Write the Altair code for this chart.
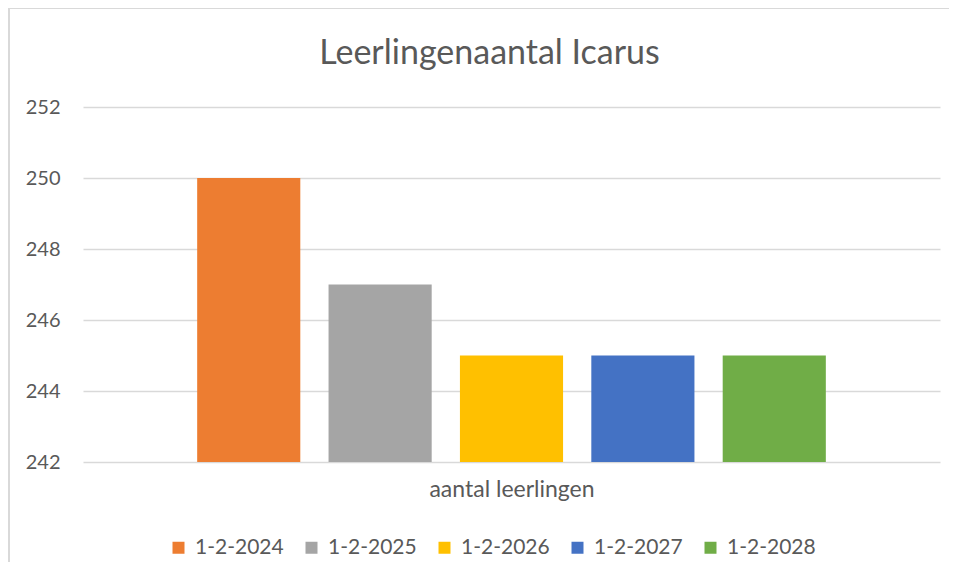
import altair as alt
import pandas as pd

categories = ["1-2-2024", "1-2-2025", "1-2-2026", "1-2-2027", "1-2-2028"]
values = [250, 247, 245, 245, 245]
colors = ["#ED7D31", "#A5A5A5", "#FFC000", "#4472C4", "#70AD47"]
y_ticks = [242, 244, 246, 248, 250, 252]
group_label = "aantal leerlingen"
title_text = "Leerlingenaantal Icarus"

df = pd.DataFrame({"datum": categories, "aantal": values})

W, H = 857, 355
FONT = "Lato"
GREY = "#595959"
BORDER = "#D9D9D9"

bars = alt.Chart(df).mark_bar().encode(
    x=alt.X("datum:N", sort=categories,
            scale=alt.Scale(paddingInner=0.215, paddingOuter=0.869),
            axis=alt.Axis(labels=False, ticks=False, domain=False, title=group_label,
                          titleFont=FONT, titleFontSize=23, titleFontWeight="normal",
                          titleColor=GREY, titlePadding=16)),
    y=alt.Y("aantal:Q", scale=alt.Scale(domain=[242, 252], zero=False, nice=False),
            axis=alt.Axis(values=y_ticks, title=None, ticks=False, domain=False,
                          labelFont=FONT, labelFontSize=20, labelColor=GREY,
                          labelPadding=23, gridColor=BORDER, gridWidth=1.5)),
    y2=alt.Y2(datum=242),
    color=alt.Color("datum:N", sort=categories,
                    scale=alt.Scale(domain=categories, range=colors),
                    legend=alt.Legend(title=None, orient="none", direction="horizontal",
                                      legendX=85, legendY=430, symbolType="square",
                                      symbolSize=144, symbolStrokeWidth=0,
                                      labelFont=FONT, labelFontSize=21, labelColor=GREY,
                                      labelOffset=6, columnPadding=17)),
)

frame_df = pd.DataFrame({"k": [0]})
top_border = alt.Chart(frame_df).mark_rule(color=BORDER, strokeWidth=2).encode(
    x=alt.value(-74), x2=alt.value(W + 9), y=alt.value(-99)
)
left_border = alt.Chart(frame_df).mark_rule(color=BORDER, strokeWidth=2).encode(
    x=alt.value(-74), y=alt.value(-99), y2=alt.value(H + 130)
)

chart = alt.layer(top_border, left_border, bars).properties(
    width=W, height=H,
    padding={"left": 75, "top": 99, "right": 9, "bottom": 100},
    autosize=alt.AutoSizeParams(type="none"),
    title=alt.Title(title_text, font=FONT, fontSize=34, fontWeight="normal",
                    color=GREY, anchor="middle", frame="group", dx=-22, offset=0, dy=64),
).configure(background="white").configure_view(strokeWidth=0)

chart.save("out.html", embed_options={"renderer": "svg", "actions": False})
